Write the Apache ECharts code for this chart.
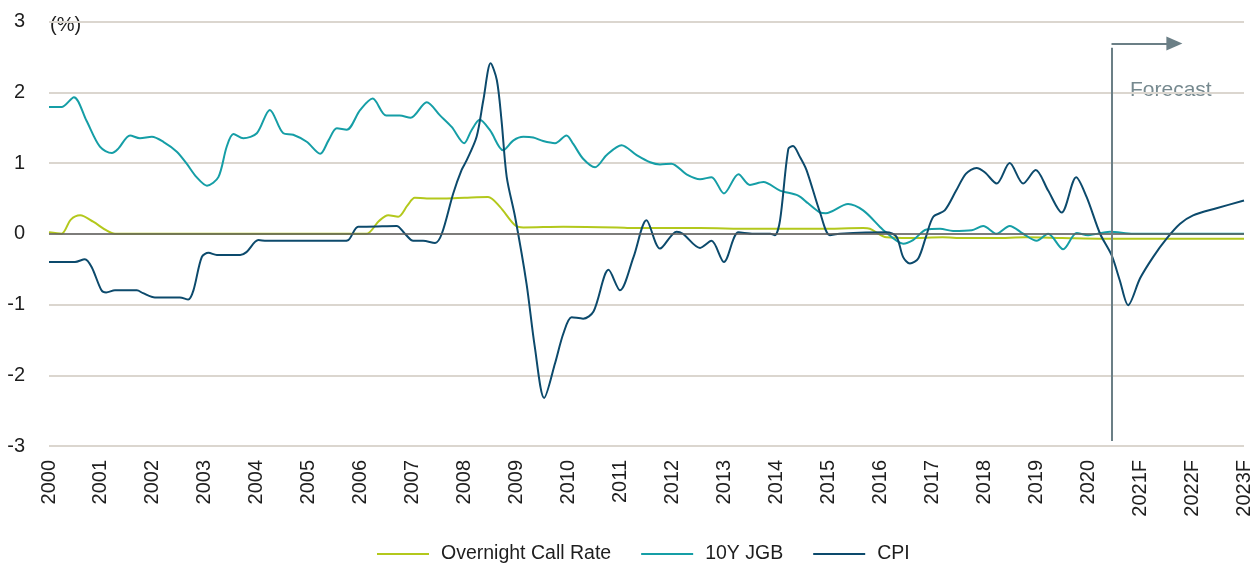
<!DOCTYPE html>
<html>
<head>
<meta charset="utf-8">
<script src="https://cdn.jsdelivr.net/npm/echarts@6/dist/echarts.min.js"></script>
<style>html,body{margin:0;padding:0;background:#fff}#c{width:1260px;height:565px}</style>
</head>
<body>
<div id="c"></div>
<script>
// ---- data ----
const yearTicks = [2000,2001,2002,2003,2004,2005,2006,2007,2008,2009,2010,2011,2012,2013,2014,2015,2016,2017,2018,2019,2020,2021,2022,2023];
const forecastFrom = 2021; // labels from here get an "F"

const callT = [2000.0,2000.24,2000.42,2000.6,2000.85,2001.1,2001.27,2001.6,2002.5,2003.5,2004.5,2005.5,2006.11,2006.35,2006.53,2006.72,2006.9,2007.04,2007.27,2007.61,2008.0,2008.45,2008.68,2008.97,2009.13,2009.9,2010.93,2011.25,2012.53,2013.5,2014.84,2015.67,2015.8,2016.12,2016.56,2017.2,2017.6,2018.2,2018.8,2019.5,2020.3,2021.5,2022.5,2023.0];
const callV = [0.02,0.0,0.2,0.26,0.17,0.05,0.0,0.0,0.0,0.0,0.0,0.0,0.0,0.18,0.26,0.24,0.4,0.51,0.50,0.50,0.51,0.52,0.38,0.12,0.09,0.10,0.09,0.08,0.08,0.07,0.07,0.08,0.07,-0.05,-0.06,-0.05,-0.06,-0.06,-0.05,-0.06,-0.07,-0.07,-0.07,-0.07];

const jgbT = [2000.0,2000.24,2000.48,2000.72,2000.98,2001.21,2001.33,2001.56,2001.75,2001.98,2002.2,2002.46,2002.65,2002.84,2003.04,2003.26,2003.42,2003.55,2003.74,2004.0,2004.25,2004.51,2004.70,2004.96,2005.22,2005.38,2005.54,2005.73,2005.99,2006.23,2006.49,2006.75,2006.96,2007.27,2007.53,2007.75,2007.99,2008.13,2008.29,2008.49,2008.74,2008.94,2009.13,2009.32,2009.51,2009.74,2009.96,2010.09,2010.28,2010.51,2010.73,2011.02,2011.31,2011.57,2011.76,2011.98,2012.27,2012.53,2012.75,2012.99,2013.27,2013.49,2013.75,2014.07,2014.42,2014.61,2014.84,2014.95,2015.38,2015.67,2015.99,2016.06,2016.44,2016.63,2016.89,2017.15,2017.40,2017.76,2017.98,2018.24,2018.49,2018.75,2019.01,2019.23,2019.52,2019.78,2020.0,2020.42,2020.87,2021.5,2022.0,2022.5,2023.0];
const jgbV = [1.79,1.79,1.93,1.60,1.23,1.14,1.20,1.39,1.35,1.37,1.30,1.16,0.99,0.80,0.68,0.80,1.23,1.41,1.35,1.42,1.75,1.42,1.40,1.30,1.13,1.32,1.49,1.47,1.75,1.91,1.67,1.67,1.64,1.86,1.67,1.51,1.28,1.46,1.61,1.46,1.18,1.32,1.37,1.36,1.31,1.28,1.39,1.27,1.06,0.94,1.11,1.25,1.11,1.01,0.98,0.99,0.84,0.77,0.80,0.57,0.84,0.69,0.73,0.61,0.54,0.43,0.30,0.29,0.42,0.33,0.10,0.05,-0.14,-0.09,0.06,0.07,0.04,0.05,0.11,0.0,0.11,0.0,-0.10,0.0,-0.22,0.01,-0.02,0.03,0.0,0.0,0.0,0.0,0.0];

const cpiT = [2000.0,2000.5,2000.69,2000.82,2001.01,2001.1,2001.27,2001.69,2001.81,2002.04,2002.52,2002.68,2002.78,2002.94,2003.07,2003.23,2003.68,2003.80,2004.03,2004.19,2005.66,2005.76,2005.95,2006.11,2006.69,2006.85,2007.01,2007.2,2007.43,2007.56,2007.78,2007.94,2008.04,2008.23,2008.36,2008.5,2008.62,2008.71,2008.81,2008.97,2009.19,2009.35,2009.53,2009.74,2009.90,2010.06,2010.28,2010.48,2010.77,2010.99,2011.25,2011.50,2011.76,2012.08,2012.2,2012.53,2012.75,2012.99,2013.27,2013.56,2013.88,2013.97,2014.07,2014.23,2014.32,2014.45,2014.58,2014.84,2015.03,2015.22,2016.12,2016.31,2016.44,2016.57,2016.73,2016.88,2017.02,2017.24,2017.46,2017.65,2017.85,2018.01,2018.24,2018.49,2018.75,2018.99,2019.23,2019.49,2019.77,2019.97,2020.23,2020.45,2020.61,2020.77,2021.0,2021.25,2021.51,2021.77,2022.02,2022.47,2023.0];
const cpiV = [-0.40,-0.40,-0.36,-0.47,-0.80,-0.83,-0.80,-0.80,-0.84,-0.90,-0.90,-0.93,-0.80,-0.33,-0.27,-0.30,-0.30,-0.26,-0.09,-0.10,-0.10,-0.09,0.10,0.10,0.11,0.0,-0.10,-0.10,-0.13,0.0,0.57,0.90,1.04,1.37,1.89,2.41,2.17,1.60,0.80,0.24,-0.70,-1.60,-2.32,-1.83,-1.41,-1.18,-1.20,-1.10,-0.51,-0.80,-0.33,0.19,-0.21,0.03,0.0,-0.20,-0.10,-0.40,0.02,0.0,0.0,-0.02,0.19,1.20,1.24,1.09,0.90,0.30,-0.02,0.0,0.02,-0.04,-0.33,-0.42,-0.35,-0.04,0.24,0.33,0.61,0.85,0.93,0.87,0.71,1.00,0.71,0.90,0.61,0.30,0.80,0.52,0.0,-0.30,-0.66,-1.01,-0.63,-0.33,-0.07,0.14,0.26,0.36,0.47];

// forecast marker (in data units)
const forecastYear = 2020.45;
const forecastLineTop = 2.63, forecastLineBottom = -2.93;
const forecastArrowY = 2.69, forecastArrowEnd = 2021.66;

const zip = (t, v) => t.map((x, i) => [x, v[i]]);

const FONT = 'Liberation Sans, Arial, sans-serif';
const TXT = '#1e1e1e';

const chart = echarts.init(document.getElementById('c'), null, {renderer: 'canvas'});
chart.setOption({
  animation: false,
  backgroundColor: '#fff',
  textStyle: {fontFamily: FONT},
  grid: {left: 49, right: 16, top: 21.5, bottom: 119, containLabel: false},
  xAxis: {
    type: 'value', min: 2000, max: 2023, interval: 1,
    axisLine: {show: false}, axisTick: {show: false}, splitLine: {show: false},
    axisLabel: {
      rotate: 90, margin: 14, fontSize: 20, color: TXT, fontFamily: FONT,
      formatter: v => (v >= forecastFrom ? v + 'F' : String(v))
    }
  },
  yAxis: {
    type: 'value', min: -3, max: 3, interval: 1,
    axisLine: {show: false}, axisTick: {show: false},
    axisLabel: {margin: 24, fontSize: 20, color: TXT, fontFamily: FONT},
    splitLine: {lineStyle: {color: '#dbd6cf', width: 2}}
  },
  legend: {
    left: 377, top: 544, padding: 0, itemWidth: 52, itemHeight: 2, itemGap: 30, icon: 'rect',
    textStyle: {fontSize: 19.5, color: TXT, fontFamily: FONT, padding: [0, 0, 0, 7]},
    data: ['Overnight Call Rate', '10Y JGB', 'CPI']
  },
  graphic: [
    {type: 'text', left: 50, top: 15, style: {text: '(%)', fontSize: 20, fill: TXT, fontFamily: FONT}},
    {type: 'text', left: 1130, top: 80, style: {text: 'Forecast', fontSize: 21, fill: '#76898f', fontFamily: FONT}}
  ],
  series: [
    {
      name: 'Overnight Call Rate', type: 'line', data: zip(callT, callV),
      smooth: 0.3, symbol: 'none', lineStyle: {width: 2, color: '#b3c81c'}, itemStyle: {color: '#b3c81c'},
      markLine: {
        silent: true, symbol: ['none', 'none'], label: {show: false}, animation: false,
        data: [
          {yAxis: 0, lineStyle: {color: '#5e5e5e', width: 1.5, type: 'solid'}},
          [{coord: [forecastYear, forecastLineTop]}, {coord: [forecastYear, forecastLineBottom]}],
          [{coord: [forecastYear, forecastArrowY], symbol: 'none'},
           {coord: [forecastArrowEnd, forecastArrowY], symbol: 'triangle', symbolSize: [14, 16]}]
        ],
        lineStyle: {color: '#6b7f86', width: 2, type: 'solid'}
      }
    },
    {
      name: '10Y JGB', type: 'line', data: zip(jgbT, jgbV),
      smooth: 0.3, symbol: 'none', lineStyle: {width: 2, color: '#159ea6'}, itemStyle: {color: '#159ea6'}
    },
    {
      name: 'CPI', type: 'line', data: zip(cpiT, cpiV),
      smooth: 0.3, symbol: 'none', lineStyle: {width: 2, color: '#0c4a6c'}, itemStyle: {color: '#0c4a6c'}
    }
  ]
});
</script>
</body>
</html>
